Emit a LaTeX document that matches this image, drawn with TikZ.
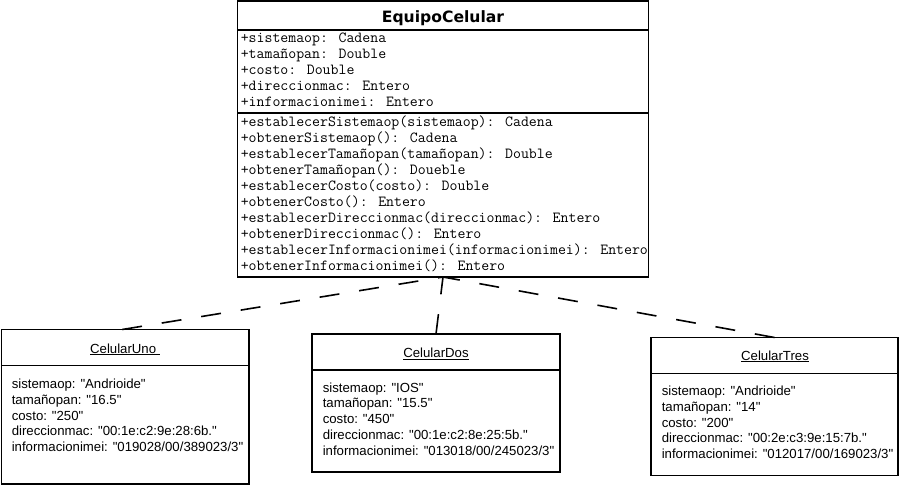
\documentclass[tikz,border=0pt]{standalone}
\usepackage{fontspec}
\newfontfamily\objfont{Liberation Sans}
\newfontfamily\titlefont{DejaVu Sans}
\begin{document}
\begin{tikzpicture}[x=1pt,y=-1pt,line width=1.6pt,
  box/.style={draw,rectangle,inner sep=0pt,outer sep=0pt,anchor=north west},
  clsname/.style={font=\titlefont\bfseries\fontsize{15.6}{18}\selectfont,inner sep=0pt,anchor=base},
  mono/.style={font=\ttfamily\fontsize{15.4}{16}\selectfont,anchor=base west,inner sep=0pt},
  objname/.style={font=\objfont\fontsize{13.2}{16}\selectfont,anchor=base,inner sep=0pt},
  objtxt/.style={font=\objfont\fontsize{13.2}{16}\selectfont,anchor=base west,inner sep=0pt},
  conn/.style={line width=1.6pt,dash pattern=on 20pt off 20pt}]
\useasboundingbox (0,0) rectangle (900,485);

% main class
\node[box,minimum width=411pt,minimum height=276pt] (cls) at (237.5,1) {};
\draw ([yshift=-29pt]cls.north west) -- ([yshift=-29pt]cls.north east);
\draw ([yshift=-112pt]cls.north west) -- ([yshift=-112pt]cls.north east);
\node[clsname] (clsT) at (443,22) {EquipoCelular};
\begin{scope}
\clip ([xshift=0.8pt]cls.north west) rectangle ([xshift=-0.8pt]cls.south east);
\foreach \t [count=\i] in {+sistemaop: Cadena,+tamañopan: Double,+costo: Double,+direccionmac: Entero,+informacionimei: Entero}
  \node[mono] (at\i) at (240,42.5+16*\i-16) {\t};
\foreach \t [count=\i] in {+establecerSistemaop(sistemaop): Cadena,+obtenerSistemaop(): Cadena,+establecerTamañopan(tamañopan): Double,+obtenerTamañopan(): Doueble,+establecerCosto(costo): Double,+obtenerCosto(): Entero,+establecerDireccionmac(direccionmac): Entero,+obtenerDireccionmac(): Entero,+establecerInformacionimei(informacionimei): Entero,+obtenerInformacionimei(): Entero}
  \node[mono] (mt\i) at (240,126.5+16*\i-16) {\t};
\end{scope}

% objects
\node[box,minimum width=247.5pt,minimum height=154.5pt] (uno) at (1.5,329.5) {};
\draw ([yshift=-36pt]uno.north west) -- ([yshift=-36pt]uno.north east);
\node[objname] (unoT) at (125,353) {\underline{CelularUno\ }};
\foreach \t [count=\i] in {sistemaop: "Andrioide",tamañopan: "16.5",costo: "250",direccionmac: "00:1e:c2:9e:28:6b.",informacionimei: "019028/00/389023/3"}
  \node[objtxt] (u\i) at (11,388.5+15.75*\i-15.75) {\t};

\node[box,minimum width=248pt,minimum height=138pt] (dos) at (312,334) {};
\draw ([yshift=-36pt]dos.north west) -- ([yshift=-36pt]dos.north east);
\node[objname] (dosT) at (436,357.5) {\underline{CelularDos}};
\foreach \t [count=\i] in {sistemaop: "IOS",tamañopan: "15.5",costo: "450",direccionmac: "00:1e:c2:8e:25:5b.",informacionimei: "013018/00/245023/3"}
  \node[objtxt] (d\i) at (322,392+15.75*\i-15.75) {\t};

\node[box,minimum width=247pt,minimum height=138pt] (tres) at (651,337.5) {};
\draw ([yshift=-36pt]tres.north west) -- ([yshift=-36pt]tres.north east);
\node[objname] (tresT) at (775,360) {\underline{CelularTres}};
\foreach \t [count=\i] in {sistemaop: "Andrioide",tamañopan: "14",costo: "200",direccionmac: "00:2e:c3:9e:15:7b.",informacionimei: "012017/00/169023/3"}
  \node[objtxt] (t\i) at (661,395.5+15.75*\i-15.75) {\t};

% connectors
\draw[conn] ([xshift=-3pt]uno.north) -- (cls.south);
\draw[conn] (dos.north) -- (cls.south);
\draw[conn] (tres.north) -- (cls.south);
\end{tikzpicture}
\end{document}
